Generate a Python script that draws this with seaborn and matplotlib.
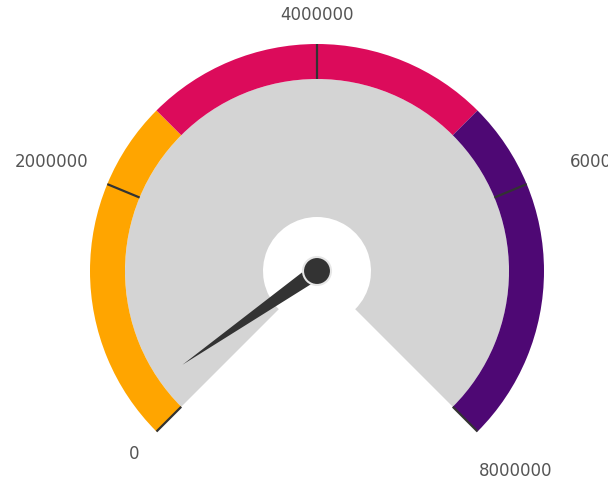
import numpy as np
import matplotlib
matplotlib.use("Agg")
import matplotlib.pyplot as plt
from matplotlib.patches import Wedge, Circle, Polygon
import seaborn as sns

# Gauge data
gauge_min = 0
gauge_max = 8000000
band_edges = [0, 2666667, 5333333, 8000000]
band_colors = ["#FFA500", "#DC0B5B", "#4E0874"]
tick_values = [0, 2000000, 4000000, 6000000, 8000000]
tick_labels = ["0", "2000000", "4000000", "6000000", "8000000"]
needle_value = 300000

sns.set_theme(style="white")
plt.rcParams["font.family"] = ["DejaVu Sans"]

fig = plt.figure(figsize=(6.08, 4.85), dpi=100)
ax = fig.add_axes([0, 0, 1, 1])
ax.set_xlim(0, 608)
ax.set_ylim(0, 485)
ax.set_aspect("equal")
ax.axis("off")

cx, cy = 317, 213
r_out, r_band, r_hole = 227, 192, 54
start_deg, sweep = 225, 270


def ang(v):
    return start_deg - (v - gauge_min) / (gauge_max - gauge_min) * sweep


# grey face
ax.add_patch(Wedge((cx, cy), r_band, ang(gauge_max), ang(gauge_min),
                   width=r_band - r_hole, facecolor="#D4D4D4", edgecolor="none"))

# colour bands
for lo, hi, col in zip(band_edges[:-1], band_edges[1:], band_colors):
    ax.add_patch(Wedge((cx, cy), r_out, ang(hi), ang(lo), width=r_out - r_band,
                       facecolor=col, edgecolor="none"))

# ticks + labels (label placement nudges in pixels)
label_r = [258, 287, 257, 287, 281]
label_dx = [0, 0, 0, 24, 0]
for v, lab, lr, ldx in zip(tick_values, tick_labels, label_r, label_dx):
    a = np.deg2rad(ang(v))
    ax.plot([cx + r_band * np.cos(a), cx + r_out * np.cos(a)],
            [cy + r_band * np.sin(a), cy + r_out * np.sin(a)],
            color="#333333", lw=1.6, solid_capstyle="butt")
    ax.text(cx + lr * np.cos(a) + ldx, cy + lr * np.sin(a), lab, ha="center",
            va="center", fontsize=12, color="#555555")

# needle
a = np.deg2rad(ang(needle_value))
tip = (cx + 164 * np.cos(a), cy + 164 * np.sin(a))
px, py = -np.sin(a), np.cos(a)
hw = 8
ax.add_patch(Polygon([tip, (cx + hw * px, cy + hw * py), (cx - hw * px, cy - hw * py)],
                     closed=True, facecolor="#333333", edgecolor="none", zorder=5))
ax.add_patch(Circle((cx, cy), 14, facecolor="#333333", edgecolor="#E6E6E6",
                    lw=1.5, zorder=6))

fig.savefig("out.png", dpi=100)
